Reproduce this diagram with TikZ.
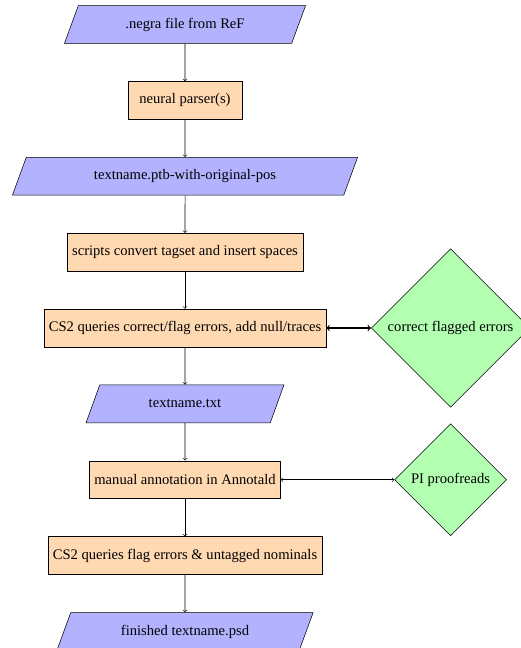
\documentclass[11pt,tikz,border=0pt]{standalone}
\usepackage{fontspec}
\setmainfont{Liberation Serif}
\usetikzlibrary{shapes.geometric}
\begin{document}
\begin{tikzpicture}[
  io/.style={trapezium, trapezium left angle=70, trapezium right angle=110, trapezium stretches=true, minimum height=1cm, text centered, draw=black, fill=blue!30},
  process/.style={rectangle, minimum width=3cm, minimum height=1cm, text centered, draw=black, fill=orange!30},
  decision/.style={diamond, text centered, draw=black, fill=green!30},
  arr/.style={->},
  darr/.style={<->}
]
\useasboundingbox (-138.75pt,18.375pt) rectangle (251.25pt,-467.625pt);
\node[io, minimum width=181pt] (n1) at (0,0) {.negra file from ReF};
\node[process] (n2) at (0,-2) {neural parser(s)};
\node[io, minimum width=259.5pt] (n3) at (0,-4) {textname.ptb-with-original-pos};
\node[process] (n4) at (0,-6) {scripts convert tagset and insert spaces};
\node[process] (n5) at (0,-8) {CS2 queries correct/flag errors, add null/traces};
\node[io, minimum width=149pt] (n6) at (0,-10) {textname.txt};
\node[process] (n7) at (0,-12) {manual annotation in Annotald};
\node[process] (n8) at (0,-14) {CS2 queries flag errors \& untagged nominals};
\node[io, minimum width=192.5pt] (n9) at (0,-16) {finished textname.psd};
\node[decision] (d1) at (7,-8) {correct flagged errors};
\node[decision] (d2) at (7,-12) {PI proofreads};
\draw[arr] (n1) -- (n2);
\draw[arr] (n2) -- (n3);
\draw[arr] (n3) -- (n4);
\draw[arr] (n4) -- (n5);
\draw[arr] (n5) -- (n6);
\draw[arr] (n6) -- (n7);
\draw[arr] (n7) -- (n8);
\draw[arr] (n8) -- (n9);
\draw[darr, thick] (n5) -- (d1);
\draw[darr] (n7) -- (d2);
\end{tikzpicture}
\end{document}
